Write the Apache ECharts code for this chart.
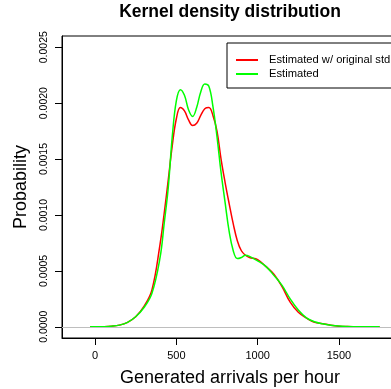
<!DOCTYPE html>
<html>
<head>
<meta charset="utf-8">
<script src="https://cdn.jsdelivr.net/npm/echarts@6/dist/echarts.min.js"></script>
<style>
html, body { margin: 0; padding: 0; background: #fff; }
#chart { width: 391px; height: 389px; }
</style>
</head>
<body>
<div id="chart"></div>
<script>
// arrivals per hour (x) and density values
var arrivals = [-30, 0, 50, 100, 150, 200, 250, 300, 350, 400, 425, 450, 475, 500, 525, 550, 575, 600, 625, 650, 675, 700, 725, 750, 775, 800, 825, 850, 875, 900, 925, 950, 1000, 1050, 1100, 1150, 1200, 1250, 1300, 1350, 1400, 1450, 1500, 1550, 1600, 1650, 1750];
var densityOriginal = [0, 0, 0.000001, 0.000005, 0.000015, 0.00004, 0.00009, 0.00018, 0.00033, 0.00074, 0.00101, 0.00131, 0.00162, 0.00186, 0.00196, 0.00193, 0.00185, 0.00180, 0.00182, 0.00189, 0.00195, 0.00196, 0.00189, 0.00175, 0.00150, 0.00129, 0.00110, 0.00092, 0.00077, 0.00068, 0.00064, 0.00062, 0.00060, 0.00054, 0.00047, 0.00036, 0.00022, 0.00013, 0.000078, 0.00004, 0.000028, 0.000015, 0.000006, 0.000002, 0.000001, 0, 0];
var densityEstimated = [0, 0, 0.000001, 0.000005, 0.000015, 0.00004, 0.00009, 0.00017, 0.00030, 0.00062, 0.00092, 0.00124, 0.00170, 0.00202, 0.00212, 0.00207, 0.00194, 0.00188, 0.00196, 0.00210, 0.00217, 0.00215, 0.00197, 0.00170, 0.00138, 0.00111, 0.00085, 0.00068, 0.00061, 0.00062, 0.00064, 0.00063, 0.00059, 0.00054, 0.00046, 0.00037, 0.00025, 0.00015, 0.00008, 0.000045, 0.000027, 0.000015, 0.000007, 0.000003, 0.000001, 0, 0];
var xTicks = [0, 500, 1000, 1500];
var yTicks = [0, 0.0005, 0.001, 0.0015, 0.002, 0.0025];

function pairs(xs, ys) {
  var out = [];
  for (var i = 0; i < xs.length; i++) out.push([xs[i], ys[i]]);
  return out;
}

var myChart = echarts.init(document.getElementById("chart"));
myChart.setOption({
  animation: false,
  backgroundColor: "#fff",
  title: {
    text: "Kernel density distribution",
    left: 230,
    top: 3,
    textAlign: "center",
    padding: 0,
    textStyle: { fontFamily: "Liberation Sans", fontWeight: "bold", fontSize: 17.5, color: "#000" }
  },
  legend: {
    orient: "vertical",
    left: 227,
    top: 43,
    padding: [10, 10, 7, 9],
    itemGap: 0,
    itemWidth: 22,
    itemHeight: 2,
    icon: "rect",
    borderColor: "#000",
    borderWidth: 1,
    borderRadius: 0,
    textStyle: { fontFamily: "Liberation Sans", fontSize: 11.2, color: "#000", lineHeight: 14, padding: [0, 0, 0, 6] },
    data: ["Estimated w/ original std. dev.", "Estimated"]
  },
  grid: {
    left: 62,
    top: 36,
    width: 336,
    height: 302,
    outerBoundsMode: "none",
    containLabel: false,
    show: true,
    borderColor: "#000",
    borderWidth: 1
  },
  xAxis: {
    type: "value",
    min: -203,
    max: 1863,
    name: "Generated arrivals per hour",
    nameLocation: "middle",
    nameGap: 31,
    nameTextStyle: { fontFamily: "Liberation Sans", fontSize: 18, color: "#000" },
    axisLine: { show: true, onZero: false, lineStyle: { color: "#000" } },
    axisTick: { show: true, length: 7, customValues: xTicks, lineStyle: { color: "#000" } },
    axisLabel: {
      customValues: xTicks,
      margin: 12,
      fontFamily: "Liberation Sans",
      fontSize: 11,
      color: "#000",
      formatter: function (v) { return String(v); }
    },
    splitLine: { show: false }
  },
  yAxis: {
    type: "value",
    min: -0.0001,
    max: 0.0026,
    name: "Probability",
    nameLocation: "middle",
    nameGap: 32,
    nameTextStyle: { fontFamily: "Liberation Sans", fontSize: 18, color: "#000" },
    axisLine: { show: true, onZero: false, lineStyle: { color: "#000" } },
    axisTick: { show: true, length: 7, customValues: yTicks, lineStyle: { color: "#000" } },
    axisLabel: {
      customValues: yTicks,
      rotate: 90,
      margin: 12,
      fontFamily: "Liberation Sans",
      fontSize: 10.5,
      color: "#000",
      formatter: function (v) { return v.toFixed(4); }
    },
    splitLine: { show: false }
  },
  series: [
    {
      name: "Estimated w/ original std. dev.",
      type: "line",
      smooth: 0.4,
      showSymbol: false,
      symbol: "none",
      color: "#ff0000",
      lineStyle: { width: 1.5, color: "#ff0000" },
      data: pairs(arrivals, densityOriginal),
      markLine: {
        silent: true,
        symbol: "none",
        label: { show: false },
        lineStyle: { color: "#bebebe", width: 1, type: "solid" },
        data: [{ yAxis: 0 }]
      }
    },
    {
      name: "Estimated",
      type: "line",
      smooth: 0.4,
      showSymbol: false,
      symbol: "none",
      color: "#00ff00",
      lineStyle: { width: 1.5, color: "#00ff00" },
      data: pairs(arrivals, densityEstimated)
    }
  ]
});
</script>
</body>
</html>
